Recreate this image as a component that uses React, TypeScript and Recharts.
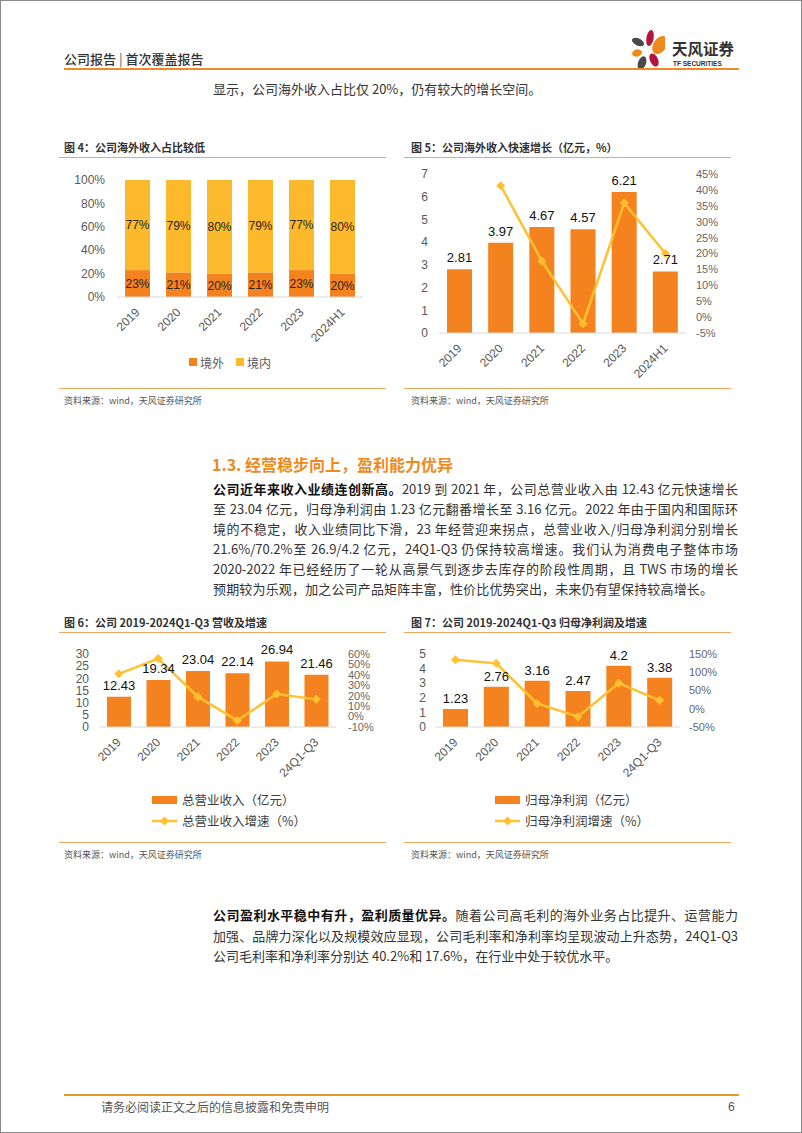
import React from "react";
import { ComposedChart, Bar, Line, XAxis, YAxis, LabelList, Legend } from "recharts";

const FONT_CN = '"Noto Sans CJK SC", "Noto Sans", sans-serif';
const FONT_NUM = '"Liberation Sans", Arial, sans-serif';

const ORANGE = "#F4821F";
const YELLOW = "#FDB92C";
const LINE_Y = "#FFC12F";
const AXIS_TXT = "#595959";
const RULE = "#F0A860";

// 图4 境内外占比
const shareYears = ["2019", "2020", "2021", "2022", "2023", "2024H1"];
const overseasShare = [23, 21, 20, 21, 23, 20];
const domesticShare = [77, 79, 80, 79, 77, 80];
const shareTicks = [0, 20, 40, 60, 80, 100];
const shareLegendOrder = ["境外", "境内"];

// 图5 海外收入（亿元）及增速
const overseasRevenue = [2.81, 3.97, 4.67, 4.57, 6.21, 2.71];
const overseasGrowth = [null, 41.3, 17.6, -2.1, 35.9, 20.0];
const overseasLeftTicks = [0, 1, 2, 3, 4, 5, 6, 7];
const overseasRightTicks = [-5, 0, 5, 10, 15, 20, 25, 30, 35, 40, 45];

// 图6 营收及增速
const finYears = ["2019", "2020", "2021", "2022", "2023", "24Q1-Q3"];
const totalRevenue = [12.43, 19.34, 23.04, 22.14, 26.94, 21.46];
const revenueGrowth = [41.0, 55.6, 19.1, -3.9, 21.7, 16.5];
const revenueLeftTicks = [0, 5, 10, 15, 20, 25, 30];
const revenueRightTicks = [-10, 0, 10, 20, 30, 40, 50, 60];

// 图7 归母净利润及增速
const netProfit = [1.23, 2.76, 3.16, 2.47, 4.2, 3.38];
const profitGrowth = [134, 124.4, 14.5, -21.8, 70.0, 23.0];
const profitLeftTicks = [0, 1, 2, 3, 4, 5];
const profitRightTicks = [-50, 0, 50, 100, 150];

const shareRows = shareYears.map((c, i) => ({ cat: c, out: overseasShare[i], dom: domesticShare[i] }));
const overseasRows = shareYears.map((c, i) => ({ cat: c, val: overseasRevenue[i], g: overseasGrowth[i] }));
const revenueRows = finYears.map((c, i) => ({ cat: c, val: totalRevenue[i], g: revenueGrowth[i] }));
const profitRows = finYears.map((c, i) => ({ cat: c, val: netProfit[i], g: profitGrowth[i] }));

const pct = (v: any) => `${v}%`;

function SlantTick(props: any) {
  const { x, y, payload } = props;
  const ax = x, ay = y + 5;
  return (
    <text x={ax} y={ay} dy="0.35em" transform={`rotate(-45 ${ax} ${ay})`} textAnchor="end"
      fontSize={12} fill={AXIS_TXT} fontFamily={FONT_NUM}>
      {payload.value}
    </text>
  );
}

function Diamond(props: any) {
  const { cx, cy } = props;
  if (cx == null || cy == null || isNaN(cy)) return <g />;
  const s = 4.5;
  return <path d={`M${cx},${cy - s}L${cx + s},${cy}L${cx},${cy + s}L${cx - s},${cy}Z`} fill={LINE_Y} />;
}

function ShareLegend({ payload }: any) {
  const items = [...(payload || [])].sort((a: any, b: any) => shareLegendOrder.indexOf(a.value) - shareLegendOrder.indexOf(b.value));
  return (
    <div style={{ display: "flex", alignItems: "center", height: 20, paddingLeft: 133, fontSize: 12, color: AXIS_TXT, fontFamily: FONT_CN }}>
      {items.map((p: any, i: number) => (
        <span key={i} style={{ display: "flex", alignItems: "center", marginRight: 12 }}>
          <span style={{ width: 8, height: 8, background: p.color, marginRight: 3 }} />
          {p.value}
        </span>
      ))}
    </div>
  );
}

function ComboLegend({ payload, left }: any) {
  const items = [...(payload || [])].sort((a: any, b: any) => (a.type === "line" ? 1 : 0) - (b.type === "line" ? 1 : 0));
  return (
    <div style={{ height: 42, paddingLeft: left, fontSize: 12.5, color: "#404040", fontFamily: FONT_CN }}>
      {items.map((p: any, i: number) => (
        <div key={i} style={{ display: "flex", alignItems: "center", height: 21 }}>
          <svg width={28} height={12} style={{ marginRight: 2 }}>
            {p.type === "line" ? (
              <g>
                <line x1={0} y1={6} x2={25} y2={6} stroke={LINE_Y} strokeWidth={2.5} />
                <path d="M12.5,1.5L17,6L12.5,10.5L8,6Z" fill={LINE_Y} />
              </g>
            ) : (
              <rect x={0} y={2} width={25} height={8} fill={ORANGE} />
            )}
          </svg>
          {p.value}
        </div>
      ))}
    </div>
  );
}

const Abs = ({ left, top, style, children }: any) => (
  <div style={{ position: "absolute", left, top, whiteSpace: "nowrap", ...style }}>{children}</div>
);

const ChartTitle = ({ left, top, children }: any) => (
  <Abs left={left} top={top} style={{ fontSize: 11, fontWeight: 700, color: "#333", lineHeight: "14px" }}>{children}</Abs>
);

const Rule = ({ left, top, width, h = 1, color = RULE }: any) => (
  <div style={{ position: "absolute", left, top, width, height: h, background: color }} />
);

const Source = ({ left, top }: any) => (
  <Abs left={left} top={top} style={{ fontSize: 9, color: "#555", lineHeight: "12px" }}>资料来源：wind，天风证券研究所</Abs>
);

const Justified = ({ top, children, last, width = 525 }: any) => (
  <div style={{
    position: "absolute", left: 212, top, width, fontSize: 13, lineHeight: "20px", color: "#333",
    textAlign: "justify", textAlignLast: last ? "left" : "justify", whiteSpace: "nowrap", overflow: "visible",
  }}>{children}</div>
);

function Logo() {
  return (
    <svg width={40} height={48} style={{ position: "absolute", left: 624, top: 24 }}>
      <ellipse cx={25} cy={13} rx={3.6} ry={8} fill="#B3163A" transform="rotate(10 25 13)" />
      <ellipse cx={13} cy={17} rx={6.5} ry={3.6} fill="#4A4A4A" transform="rotate(25 13 17)" />
      <ellipse cx={35} cy={20} rx={6.5} ry={10} fill="#EE8A1C" transform="rotate(35 35 20)" />
      <ellipse cx={12} cy={28} rx={5} ry={3.5} fill="#EE8A1C" transform="rotate(-15 12 28)" />
      <ellipse cx={17} cy={38} rx={4} ry={7} fill="#4A4A4A" transform="rotate(20 17 38)" />
      <ellipse cx={29} cy={35} rx={4} ry={7} fill="#B3163A" transform="rotate(-25 29 35)" />
    </svg>
  );
}

export default function App() {
  const numTick = { fontSize: 12, fill: AXIS_TXT, fontFamily: FONT_NUM };
  const smallTick = { fontSize: 11, fill: "#666", fontFamily: FONT_NUM };
  const label = { fontSize: 13, fill: "#111", fontFamily: FONT_NUM };
  return (
    <div style={{ position: "absolute", left: 0, top: 0, width: 802, height: 1133, background: "#fff", border: "1px solid #8a8a8a", boxSizing: "border-box", overflow: "hidden", fontFamily: FONT_CN }}>
      {/* header */}
      <Abs left={63} top={49} style={{ fontSize: 13, fontWeight: 500, color: "#333", lineHeight: "18px" }}>公司报告 <span style={{ color: "#777" }}>|</span> 首次覆盖报告</Abs>
      <Logo />
      <Abs left={671} top={38} style={{ fontSize: 15.5, fontWeight: 700, color: "#333", lineHeight: "18px" }}>天风证券</Abs>
      <Abs left={672} top={59} style={{ fontSize: 6.5, fontWeight: 700, color: "#333", lineHeight: "8px", fontFamily: FONT_NUM }}>TF SECURITIES</Abs>
      <Rule left={63} top={67} width={675} h={2} color="#EE8A2A" />
      <Abs left={212} top={78} style={{ fontSize: 13, color: "#333", lineHeight: "20px" }}>显示，公司海外收入占比仅 20%，仍有较大的增长空间。</Abs>

      {/* 图4 */}
      <ChartTitle left={63} top={139}>图 4：公司海外收入占比较低</ChartTitle>
      <Rule left={58} top={156} width={327} />
      <div style={{ position: "absolute", left: 55, top: 165 }}>
        <ComposedChart width={330} height={215} data={shareRows} margin={{ top: 14, right: 23, bottom: 9, left: 11 }}>
          <XAxis dataKey="cat" tick={<SlantTick />} tickLine={false} axisLine={{ stroke: "#D9D9D9" }} height={55} interval={0} />
          <YAxis width={50} domain={[0, 100]} ticks={shareTicks} interval={0} tickFormatter={pct} tick={numTick} tickLine={false} axisLine={false} tickMargin={6} />
          <Legend content={<ShareLegend />} wrapperStyle={{ left: 0, width: 330 }} />
          <Bar dataKey="out" name="境外" stackId="s" fill={ORANGE} barSize={25} isAnimationActive={false}>
            <LabelList dataKey="out" position="center" formatter={pct} style={{ fontSize: 12, fill: "#262626", fontFamily: FONT_NUM }} />
          </Bar>
          <Bar dataKey="dom" name="境内" stackId="s" fill={YELLOW} barSize={25} isAnimationActive={false}>
            <LabelList dataKey="dom" position="center" formatter={pct} style={{ fontSize: 12, fill: "#262626", fontFamily: FONT_NUM }} />
          </Bar>
        </ComposedChart>
      </div>
      <Rule left={58} top={387} width={327} />
      <Source left={63} top={394} />

      {/* 图5 */}
      <ChartTitle left={410} top={139}>图 5：公司海外收入快速增长（亿元，%）</ChartTitle>
      <Rule left={403} top={156} width={327} />
      <div style={{ position: "absolute", left: 400, top: 165 }}>
        <ComposedChart width={335} height={215} data={overseasRows} margin={{ top: 8, right: 10, bottom: 8, left: 8 }}>
          <XAxis dataKey="cat" tick={<SlantTick />} tickLine={false} axisLine={{ stroke: "#D9D9D9" }} height={40} interval={0} />
          <YAxis yAxisId="l" width={30} domain={[0, 7]} ticks={overseasLeftTicks} interval={0} tick={numTick} tickLine={false} axisLine={false} tickMargin={5} />
          <YAxis yAxisId="r" orientation="right" width={40} domain={[-5, 45]} ticks={overseasRightTicks} interval={0} tickFormatter={pct} tick={smallTick} tickLine={false} axisLine={false} tickMargin={4} />
          <Bar yAxisId="l" dataKey="val" fill={ORANGE} barSize={25} isAnimationActive={false}>
            <LabelList dataKey="val" position="top" offset={7} style={label} />
          </Bar>
          <Line yAxisId="r" dataKey="g" stroke={LINE_Y} strokeWidth={2.5} dot={<Diamond />} activeDot={false} isAnimationActive={false} />
        </ComposedChart>
      </div>
      <Rule left={403} top={387} width={327} />
      <Source left={410} top={394} />

      {/* 正文 1 */}
      <Abs left={211} top={452} style={{ fontSize: 16, fontWeight: 700, color: "#EE8A1C", lineHeight: "22px" }}>1.3. 经营稳步向上，盈利能力优异</Abs>
      <Justified top={478}><b style={{ color: "#111" }}>公司近年来收入业绩连创新高。</b>2019 到 2021 年，公司总营业收入由 12.43 亿元快速增长</Justified>
      <Justified top={498}>至 23.04 亿元，归母净利润由 1.23 亿元翻番增长至 3.16 亿元。2022 年由于国内和国际环</Justified>
      <Justified top={518}>境的不稳定，收入业绩同比下滑，23 年经营迎来拐点，总营业收入/归母净利润分别增长</Justified>
      <Justified top={538}>21.6%/70.2%至 26.9/4.2 亿元，24Q1-Q3 仍保持较高增速。我们认为消费电子整体市场</Justified>
      <Justified top={558}>2020-2022 年已经经历了一轮从高景气到逐步去库存的阶段性周期，且 TWS 市场的增长</Justified>
      <Justified top={578} width={500}>预期较为乐观，加之公司产品矩阵丰富，性价比优势突出，未来仍有望保持较高增长。</Justified>

      {/* 图6 */}
      <ChartTitle left={63} top={614}>图 6：公司 2019-2024Q1-Q3 营收及增速</ChartTitle>
      <Rule left={58} top={631} width={327} />
      <div style={{ position: "absolute", left: 55, top: 640 }}>
        <ComposedChart width={330} height={195} data={revenueRows} margin={{ top: 13, right: 5, bottom: 5, left: 8 }}>
          <XAxis dataKey="cat" tick={<SlantTick />} tickLine={false} axisLine={{ stroke: "#D9D9D9" }} height={62} interval={0} />
          <YAxis yAxisId="l" width={35} domain={[0, 30]} ticks={revenueLeftTicks} interval={0} tick={numTick} tickLine={false} axisLine={false} tickMargin={4} />
          <YAxis yAxisId="r" orientation="right" width={45} domain={[-10, 60]} ticks={revenueRightTicks} interval={0} tickFormatter={pct} tick={smallTick} tickLine={false} axisLine={false} tickMargin={6} />
          <Legend content={<ComboLegend left={96} />} wrapperStyle={{ left: 0, width: 330 }} />
          <Bar yAxisId="l" dataKey="val" name="总营业收入（亿元）" fill={ORANGE} barSize={24} isAnimationActive={false}>
            <LabelList dataKey="val" position="top" offset={7} style={label} />
          </Bar>
          <Line yAxisId="r" dataKey="g" name="总营业收入增速（%）" stroke={LINE_Y} strokeWidth={2.5} dot={<Diamond />} activeDot={false} isAnimationActive={false} />
        </ComposedChart>
      </div>
      <Rule left={58} top={841} width={327} />
      <Source left={63} top={848} />

      {/* 图7 */}
      <ChartTitle left={410} top={614}>图 7：公司 2019-2024Q1-Q3 归母净利润及增速</ChartTitle>
      <Rule left={403} top={631} width={327} />
      <div style={{ position: "absolute", left: 400, top: 640 }}>
        <ComposedChart width={335} height={195} data={profitRows} margin={{ top: 13, right: 11, bottom: 5, left: 8 }}>
          <XAxis dataKey="cat" tick={<SlantTick />} tickLine={false} axisLine={{ stroke: "#D9D9D9" }} height={62} interval={0} />
          <YAxis yAxisId="l" width={26} domain={[0, 5]} ticks={profitLeftTicks} interval={0} tick={numTick} tickLine={false} axisLine={false} tickMargin={3} />
          <YAxis yAxisId="r" orientation="right" width={45} domain={[-50, 150]} ticks={profitRightTicks} interval={0} tickFormatter={pct} tick={smallTick} tickLine={false} axisLine={false} tickMargin={3} />
          <Legend content={<ComboLegend left={94} />} wrapperStyle={{ left: 0, width: 335 }} />
          <Bar yAxisId="l" dataKey="val" name="归母净利润（亿元）" fill={ORANGE} barSize={25} isAnimationActive={false}>
            <LabelList dataKey="val" position="top" offset={6} style={label} />
          </Bar>
          <Line yAxisId="r" dataKey="g" name="归母净利润增速（%）" stroke={LINE_Y} strokeWidth={2.5} dot={<Diamond />} activeDot={false} isAnimationActive={false} />
        </ComposedChart>
      </div>
      <Rule left={403} top={841} width={327} />
      <Source left={410} top={848} />

      {/* 正文 2 */}
      <Justified top={904}><b style={{ color: "#111" }}>公司盈利水平稳中有升，盈利质量优异。</b>随着公司高毛利的海外业务占比提升、运营能力</Justified>
      <Justified top={925}>加强、品牌力深化以及规模效应显现，公司毛利率和净利率均呈现波动上升态势，24Q1-Q3</Justified>
      <Justified top={945} last>公司毛利率和净利率分别达 40.2%和 17.6%，在行业中处于较优水平。</Justified>

      {/* footer */}
      <Rule left={63} top={1093} width={675} h={2} color="#E8962E" />
      <Abs left={100} top={1098} style={{ fontSize: 12, color: "#555", lineHeight: "16px" }}>请务必阅读正文之后的信息披露和免责申明</Abs>
      <Abs left={727} top={1098} style={{ fontSize: 12, color: "#555", lineHeight: "16px", fontFamily: FONT_NUM }}>6</Abs>
    </div>
  );
}
